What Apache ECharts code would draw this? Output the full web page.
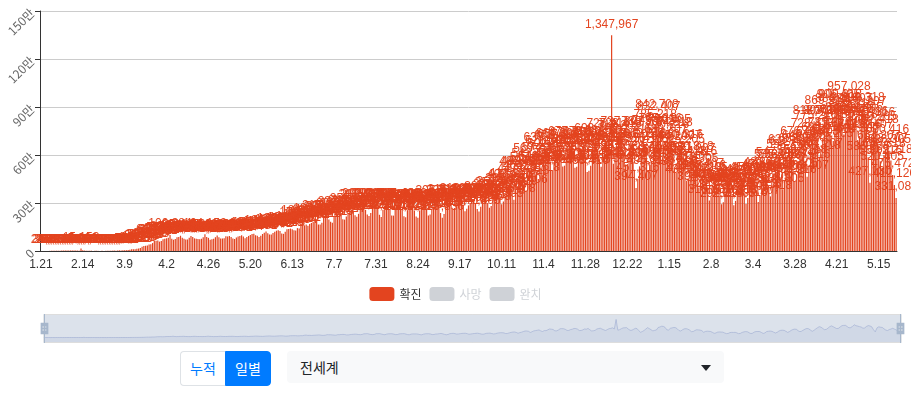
<!DOCTYPE html>
<html>
<head>
<meta charset="utf-8">
<script src="https://cdn.jsdelivr.net/npm/echarts@6/dist/echarts.min.js"></script>
<style>
  body { margin: 0; background: #fff; font-family: 'Noto Sans CJK KR', 'Noto Sans', sans-serif; }
  #chart { position: absolute; left: 0; top: 0; width: 911px; height: 350px; }
  .btns { position: absolute; left: 180px; top: 351px; display: flex; }
  .btns div { width: 44px; height: 33px; line-height: 33px; text-align: center; font-size: 14px; }
  .btns .off { color: #007bff; border: 1px solid #dee2e6; border-right: none; border-radius: 4px 0 0 4px; background: #fff; }
  .btns .on { color: #fff; background: #007bff; border: 1px solid #007bff; border-radius: 0 4px 4px 0; }
  .sel { position: absolute; left: 287px; top: 351px; width: 437px; height: 32px; line-height: 32px;
         background: #f8f9fa; border-radius: 4px; font-size: 14px; color: #212529; }
  .sel span { position: absolute; left: 13px; }
  .sel i { position: absolute; left: 414px; top: 14px; width: 0; height: 0;
           border-left: 5px solid transparent; border-right: 5px solid transparent; border-top: 6px solid #212529; }
</style>
</head>
<body>
<div id="chart"></div>
<div class="btns"><div class="off">누적</div><div class="on">일별</div></div>
<div class="sel"><span>전세계</span><i></i></div>
<script>
// daily new confirmed cases, worldwide, 2020-01-21 .. 2021-05-25
const jan20 = [282, 314, 257, 265, 468, 688, 787, 1771, 1459, 1737, 1982];
const feb20 = [2102, 2590, 2829, 3235, 3884, 3694, 3143, 3385, 2652, 2984, 2473, 2022, 15153, 5090, 2641, 2055, 2100, 1921, 1751, 650, 1019, 1060, 657, 590, 904, 775, 1021, 1429, 1640];
const mar20 = [1806, 2004, 2349, 2263, 2695, 3917, 3828, 4006, 4573, 4837, 6973, 7481, 10545, 10837, 11225, 14128, 15960, 18740, 26948, 31846, 32719, 33617, 40089, 41943, 49536, 61766, 63993, 65498, 58611, 62512, 73062];
const apr20 = [76215, 79532, 82372, 100384, 76044, 70493, 74367, 85931, 87115, 95447, 82385, 76471, 71226, 72097, 82713, 94264, 88133, 79253, 77321, 75088, 74193, 76557, 85423, 104152, 88134, 82195, 70313, 73210, 76245, 86189];
const may20 = [96326, 86021, 78219, 78403, 80227, 92451, 90327, 93204, 87019, 77386, 75441, 84012, 90136, 93317, 98232, 91047, 80324, 88149, 94235, 100163, 106338, 108237, 98456, 95316, 88231, 96045, 106287, 114231, 122459, 111372, 103246];
const jun20 = [103451, 112034, 120215, 127043, 130118, 124350, 109215, 107346, 120457, 135221, 138009, 140312, 136215, 130227, 128154, 143058, 140261, 172314, 184216, 160447, 166135, 157092, 168340, 175228, 183416, 195207, 190145, 166322, 165218, 177045];
const jul20 = [215431, 207318, 209552, 196214, 183405, 176219, 212338, 214516, 228347, 237215, 225106, 198324, 196247, 215331, 233409, 245218, 255106, 245331, 224117, 213409, 232518, 281407, 283215, 292334, 257418, 228206, 219332, 237418, 289205, 290513, 292246];
const aug20 = [262315, 226418, 212507, 257331, 277208, 284416, 283127, 257305, 221418, 221236, 265507, 285312, 286409, 291216, 259338, 216407, 211225, 255318, 274406, 271115, 270338, 252419, 216207, 207315, 253428, 280306, 283219, 285407, 265318, 221206, 228415];
const sep20 = [262308, 268417, 288209, 305316, 279408, 237215, 207336, 231418, 285207, 305319, 316428, 290305, 259217, 268408, 290316, 308227, 315409, 318216, 287305, 248418, 264207, 285319, 300428, 315306, 322417, 296208, 262319, 247405, 277316, 315208];
const oct20 = [322417, 330306, 300219, 270408, 281317, 322406, 348215, 359328, 361407, 343216, 292305, 309418, 347206, 382319, 408427, 413305, 383216, 320408, 367319, 400207, 447316, 486428, 488305, 464217, 378406, 432318, 494207, 517325, 542418, 569306, 494217];
const nov20 = [449318, 519407, 512216, 574305, 637418, 621307, 602216, 500408, 499317, 556206, 653419, 664308, 657217, 614406, 528315, 533208, 592417, 624306, 677218, 670405, 625317, 520206, 526418, 570307, 640216, 622405, 679318, 583207, 493416, 502305];
const dec20 = [533218, 634407, 671316, 693205, 633418, 573307, 526216, 594405, 664318, 684207, 725416, 640305, 1347967, 545218, 585407, 656316, 717205, 728418, 737307, 630216, 540405, 543318, 615207, 687416, 660305, 508218, 394407, 451316, 529205, 635418, 738307];
const jan21 = [662216, 580405, 496318, 537207, 560416, 745305, 785218, 842708, 832407, 755316, 574205, 563418, 688307, 720216, 750405, 734318, 644207, 513416, 489305, 585218, 650407, 660316, 625205, 553418, 439307, 449216, 523405, 580318, 571207, 554416, 511305];
const feb21 = [394305, 453218, 475407, 465316, 450205, 389418, 316307, 341216, 405405, 416318, 410207, 400416, 343305, 292218, 305407, 369316, 386205, 380418, 389307, 349216, 286405, 313318, 384207, 423416, 442305, 429218, 360407, 294316];
const mar21 = [331205, 414418, 450307, 451216, 447405, 379318, 306207, 346416, 446305, 470218, 483407, 464316, 398205, 341418, 392307, 486216, 535405, 547318, 536207, 460416, 386305, 443218, 535407, 598316, 628205, 612418, 504307, 438216, 479405, 558318, 633207];
const apr21 = [676416, 649305, 562218, 463407, 534316, 639205, 728418, 811307, 775216, 679405, 588318, 604207, 699416, 807305, 869218, 807407, 735316, 666205, 687418, 794307, 884216, 906405, 909318, 815207, 727416, 740305, 826218, 957028, 882407, 852316];
const may21 = [812205, 780418, 694307, 718216, 824405, 890318, 862207, 802416, 586305, 427130, 720407, 797316, 769205, 752418, 651307, 560216, 520405, 600318, 633207, 690416, 626305, 565218, 475472, 412120, 331080];

const confirmed = [].concat(jan20, feb20, mar20, apr20, may20, jun20, jul20, aug20, sep20, oct20, nov20, dec20, jan21, feb21, mar21, apr21, may21);
const deaths = [];
const recovered = [];

// category labels: one per day starting 2020-01-21
const startDay = Date.UTC(2020, 0, 21);
const days = confirmed.map((_, i) => {
  const d = new Date(startDay + i * 86400000);
  return (d.getUTCMonth() + 1) + '.' + d.getUTCDate();
});

const RED = '#e3441f';
const chart = echarts.init(document.getElementById('chart'), null, { renderer: 'canvas' });
chart.setOption({
  animation: false,
  color: [RED, '#333', '#2f9e44'],
  grid: { left: 40, right: 14, top: 11, bottom: 99 },
  legend: {
    data: ['확진', '사망', '완치'],
    selected: { '사망': false, '완치': false },
    top: 282,
    left: 'center',
    itemWidth: 25,
    itemHeight: 14,
    textStyle: { fontSize: 12, color: '#333', fontFamily: 'Noto Sans CJK KR' },
  },
  xAxis: {
    type: 'category',
    data: days,
    axisLine: { lineStyle: { color: '#333' } },
    axisTick: { interval: 23, alignWithLabel: true },
    axisLabel: { interval: 23, color: '#333', fontSize: 12, margin: 8 },
  },
  yAxis: {
    type: 'value',
    min: 0,
    max: 1500000,
    interval: 300000,
    axisLine: { show: true, lineStyle: { color: '#333' } },
    axisTick: { show: true },
    axisLabel: {
      rotate: 45,
      color: '#666',
      fontSize: 12,
      fontFamily: 'Noto Sans CJK KR',
      formatter: (v) => (v === 0 ? '0' : v / 10000 + '만'),
    },
    splitLine: { lineStyle: { color: '#ccc' } },
  },
  dataZoom: [{
    type: 'slider',
    start: 0,
    end: 100,
    left: 41,
    right: 12,
    top: 314,
    height: 29,
    showDetail: false,
    brushSelect: false,
    moveHandleSize: 0,
    borderColor: '#ddd',
    backgroundColor: 'rgba(47,69,84,0)',
    fillerColor: 'rgba(167,183,204,0.4)',
    // thin bar across the full height plus a small grip box with two notches
    handleIcon: 'path://M4.5,0h1v30h-1z M1,9h8v12h-8z M3,13v1h4v-1z M3,16v1h4v-1z',
    handleSize: '100%',
    handleStyle: { color: '#a7b7cc', borderColor: '#a7b7cc', borderWidth: 0 },
    dataBackground: {
      lineStyle: { color: '#b8bec8', opacity: 0.8, width: 0.5 },
      areaStyle: { color: 'rgba(47,69,84,0.3)', opacity: 0.25 },
    },
  }],
  series: [
    {
      name: '확진',
      type: 'bar',
      data: confirmed,
      itemStyle: { color: RED },
      label: {
        show: true,
        position: 'top',
        color: RED,
        fontSize: 12,
        formatter: (p) => p.value.toLocaleString('en-US'),
      },
    },
    { name: '사망', type: 'bar', data: deaths },
    { name: '완치', type: 'bar', data: recovered },
  ],
});
</script>
</body>
</html>
